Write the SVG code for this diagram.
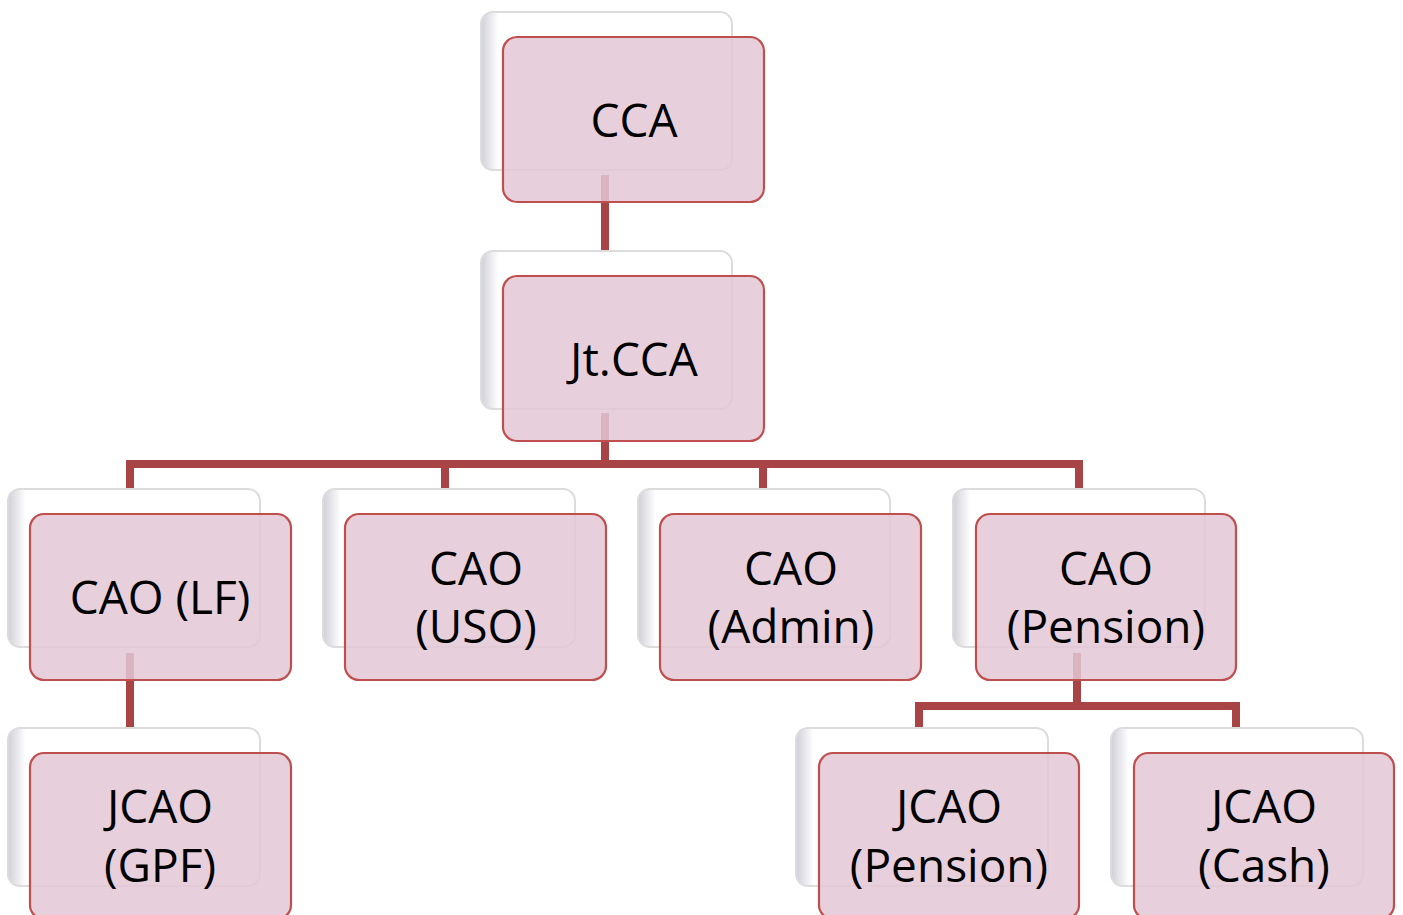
<svg xmlns="http://www.w3.org/2000/svg" width="1403" height="915" viewBox="0 0 1403 915">
<defs>
<linearGradient id="backg" x1="0" y1="0" x2="1" y2="0">
<stop offset="0" stop-color="#cfcfd8"/>
<stop offset="0.07" stop-color="#ffffff"/>
<stop offset="1" stop-color="#ffffff"/>
</linearGradient>
<style>
.back{fill:url(#backg);stroke:#dcdcdc;stroke-width:2}
.front{fill:#e3c8d5;fill-opacity:0.85;stroke:#bf4f4f;stroke-width:2.2}
.conn{fill:none;stroke:#a94446;stroke-width:8}
text{font-family:"Open Sans","Liberation Sans",sans-serif;font-size:46px;fill:#000;text-anchor:middle}
</style>
</defs>
<rect width="1403" height="915" fill="#ffffff"/>
<g id="connectors">
<path class="conn" d="M605 175V250"/>
<path class="conn" d="M605 413V464M130 489V464H1079V489M445 464V489M763 464V489"/>
<path class="conn" d="M130 653V728"/>
<path class="conn" d="M1077 653V706M919 728V706H1236V728"/>
</g>
<g id="n-cca">
<rect class="back" x="481" y="12" width="251" height="158" rx="12"/>
<rect class="front" x="503" y="37" width="261" height="165" rx="14"/>
<text x="634" y="137">CCA</text>
</g>
<g id="n-jtcca">
<rect class="back" x="481" y="251" width="251" height="158" rx="12"/>
<rect class="front" x="503" y="276" width="261" height="165" rx="14"/>
<text x="634" y="376">Jt.CCA</text>
</g>
<g id="n-cao-lf">
<rect class="back" x="8" y="489" width="252" height="158" rx="12"/>
<rect class="front" x="30" y="514" width="261" height="166" rx="14"/>
<text x="160" y="614">CAO (LF)</text>
</g>
<g id="n-cao-uso">
<rect class="back" x="323" y="489" width="252" height="158" rx="12"/>
<rect class="front" x="345" y="514" width="261" height="166" rx="14"/>
<text x="476" y="585">CAO</text>
<text x="476" y="643">(USO)</text>
</g>
<g id="n-cao-admin">
<rect class="back" x="638" y="489" width="252" height="158" rx="12"/>
<rect class="front" x="660" y="514" width="261" height="166" rx="14"/>
<text x="791" y="585">CAO</text>
<text x="791" y="643">(Admin)</text>
</g>
<g id="n-cao-pension">
<rect class="back" x="953" y="489" width="252" height="158" rx="12"/>
<rect class="front" x="976" y="514" width="260" height="166" rx="14"/>
<text x="1106" y="585">CAO</text>
<text x="1106" y="643">(Pension)</text>
</g>
<g id="n-jcao-gpf">
<rect class="back" x="8" y="728" width="252" height="158" rx="12"/>
<rect class="front" x="30" y="753" width="261" height="166" rx="14"/>
<text x="160" y="823">JCAO</text>
<text x="160" y="882">(GPF)</text>
</g>
<g id="n-jcao-pension">
<rect class="back" x="796" y="728" width="252" height="158" rx="12"/>
<rect class="front" x="819" y="753" width="260" height="166" rx="14"/>
<text x="949" y="823">JCAO</text>
<text x="949" y="882">(Pension)</text>
</g>
<g id="n-jcao-cash">
<rect class="back" x="1111" y="728" width="252" height="158" rx="12"/>
<rect class="front" x="1134" y="753" width="260" height="166" rx="14"/>
<text x="1264" y="823">JCAO</text>
<text x="1264" y="882">(Cash)</text>
</g>
</svg>
